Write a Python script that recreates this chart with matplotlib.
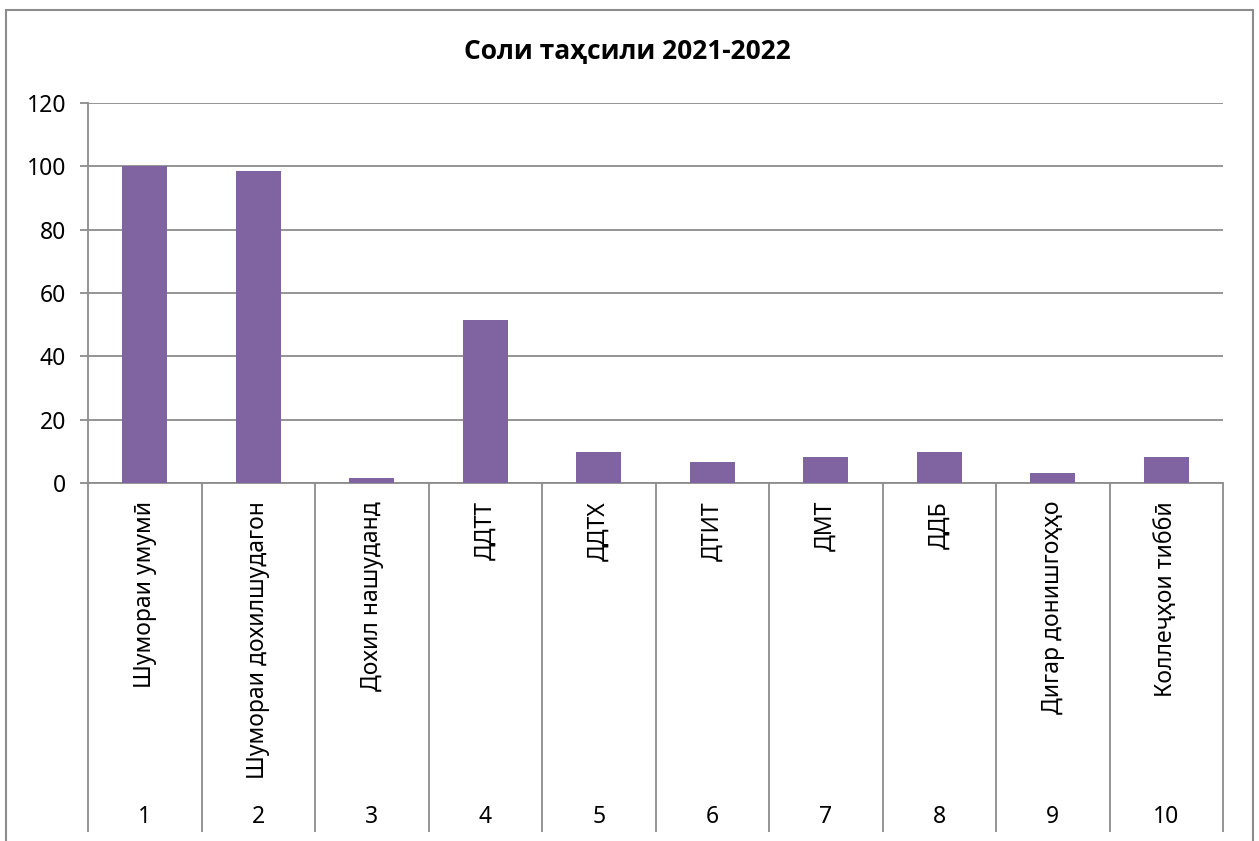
import matplotlib
matplotlib.use("Agg")
import matplotlib.pyplot as plt
from matplotlib.patches import Rectangle
import numpy as np

plt.rcParams["font.family"] = ["Noto Sans", "DejaVu Sans"]

title = "Соли таҳсили 2021-2022"
categories = [
    "Шумораи умумӣ",
    "Шумораи дохилшудагон",
    "Дохил нашуданд",
    "ДДТТ",
    "ДДТХ",
    "ДТИТ",
    "ДМТ",
    "ДДБ",
    "Дигар донишгоҳҳо",
    "Коллеҷҳои тиббӣ",
]
numbers = [str(i) for i in range(1, 11)]
values = [100, 98.4, 1.6, 51.6, 9.9, 6.5, 8.3, 9.8, 3.3, 8.2]
yticks = [0, 20, 40, 60, 80, 100, 120]

bar_color = "#8064A2"
grid_color = "#8c8c8c"

W, H = 1259, 841
fig = plt.figure(figsize=(W / 100, H / 100), dpi=100)

# plot area in pixels: x 88..1223, y 103..483
ax = fig.add_axes([88 / W, 1 - 483 / H, (1223 - 88) / W, (483 - 103) / H])
x = np.arange(len(categories))
ax.bar(x, values, width=0.4, color=bar_color, zorder=3)
ax.set_xlim(-0.5, len(categories) - 0.5)
ax.set_ylim(yticks[0], yticks[-1])
ax.set_yticks(yticks)
ax.yaxis.grid(True, color=grid_color, linewidth=1.3, zorder=0)
ax.tick_params(axis="y", length=5.8, width=1.3, color=grid_color,
               labelsize=16.5, pad=10)
ax.set_xticks([])
for side in ("top", "right"):
    ax.spines[side].set_visible(False)
for side in ("left", "bottom"):
    ax.spines[side].set_color(grid_color)
    ax.spines[side].set_linewidth(1.3)

# multi-level category axis
trans = ax.get_xaxis_transform()
bottom = (483 - 832) / (483 - 103)
seps = np.arange(len(categories) + 1) - 0.5
ax.vlines(seps, bottom, 0, transform=trans, colors=grid_color,
          linewidth=1.3, clip_on=False)
for i, (lab, num) in enumerate(zip(categories, numbers)):
    ax.text(i, (483 - 501) / 380, lab, transform=trans, rotation=90,
            ha="center", va="top", fontsize=16.5)
    ax.text(i, (483 - 817) / 380, num, transform=trans,
            ha="center", va="center", fontsize=16.5)

fig.text(627 / W, 1 - 51 / H, title, ha="center", va="center",
         fontsize=19, fontweight="bold",
         family=["Open Sans", "DejaVu Sans"])

# chart border
fig.patches.append(Rectangle((6 / W, -0.1), (1253 - 6) / W, 1.1 - 10 / H,
                             transform=fig.transFigure, fill=False,
                             edgecolor="#8c8c8c", linewidth=1.5))

fig.savefig("out.png", dpi=100)
